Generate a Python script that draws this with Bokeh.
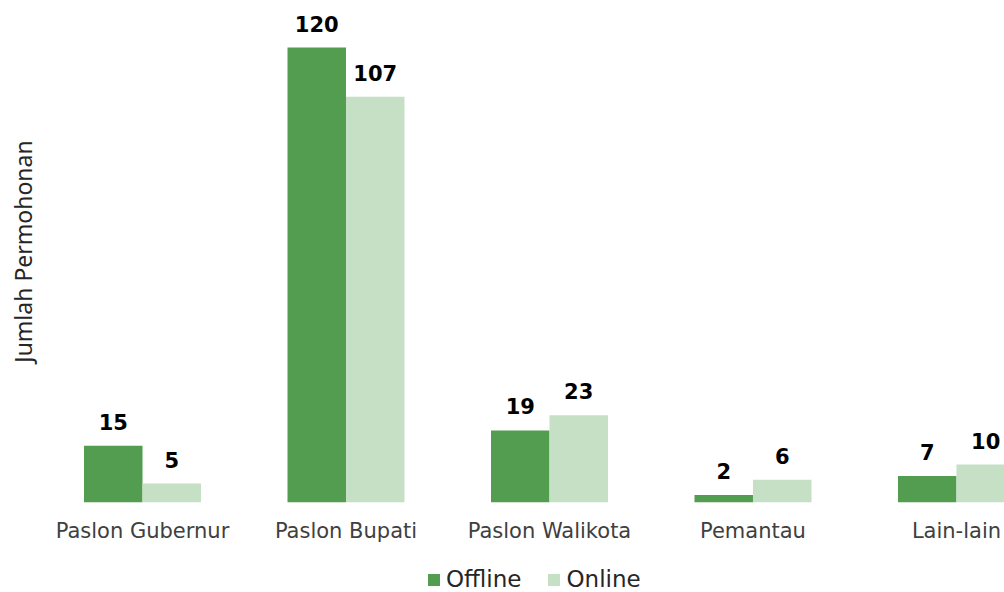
from bokeh.plotting import figure
from bokeh.layouts import column
from bokeh.models import (ColumnDataSource, LabelSet, Legend, LegendItem,
                          FixedTicker, Range1d)
from bokeh.core.properties import value
from bokeh.embed import file_html
from bokeh.resources import INLINE

categories = ["Paslon Gubernur", "Paslon Bupati", "Paslon Walikota", "Pemantau", "Lain-lain"]
offline = [15, 120, 19, 2, 7]
online = [5, 107, 23, 6, 10]
series_names = ["Offline", "Online"]
colors = ["#529d50", "#c6e0c5"]

idx = list(range(len(categories)))
half = 0.1437
bw = 0.2875

src_off = ColumnDataSource(dict(x=[i - half for i in idx], top=offline,
                                lbl=[str(v) for v in offline]))
src_on = ColumnDataSource(dict(x=[i + half for i in idx], top=online,
                               lbl=[str(v) for v in online]))

p = figure(width=1004, height=560, output_backend="svg", toolbar_location=None,
           x_range=Range1d(-0.4521, 4.236), y_range=Range1d(0, 132.4),
           min_border_left=50, min_border_right=0, min_border_top=0,
           min_border_bottom=58)
p.outline_line_color = None
p.xgrid.grid_line_color = None
p.ygrid.grid_line_color = None

r_off = p.vbar(x="x", top="top", width=bw, bottom=0, source=src_off,
               fill_color=colors[0], line_color=None)
r_on = p.vbar(x="x", top="top", width=bw, bottom=0, source=src_on,
              fill_color=colors[1], line_color=None)

for src in (src_off, src_on):
    p.add_layout(LabelSet(x="x", y="top", text="lbl", source=src,
                          text_align="center", text_baseline="alphabetic",
                          y_offset=16, text_font=value("DejaVu Sans"),
                          text_font_style="bold", text_font_size="21px",
                          text_color="#000000"))

# x axis
p.xaxis.ticker = FixedTicker(ticks=idx)
p.xaxis.major_label_overrides = {i: c for i, c in zip(idx, categories)}
p.xaxis.axis_line_color = None
p.xaxis.major_tick_line_color = None
p.xaxis.minor_tick_line_color = None
p.xaxis.major_label_standoff = 10
p.xaxis.major_label_text_font = "DejaVu Sans"
p.xaxis.major_label_text_font_size = "21px"
p.xaxis.major_label_text_color = "#404040"

# y axis
p.yaxis.ticker = FixedTicker(ticks=[])
p.yaxis.axis_line_color = None
p.yaxis.major_tick_line_color = None
p.yaxis.minor_tick_line_color = None
p.yaxis.axis_label = "Jumlah Permohonan"
p.yaxis.axis_label_text_font = "Noto Sans"
p.yaxis.axis_label_text_font_style = "normal"
p.yaxis.axis_label_text_font_size = "23px"
p.yaxis.axis_label_text_color = "#262626"
p.yaxis.axis_label_standoff = 12

# legend row
lg = figure(width=1004, height=32, output_backend="svg", toolbar_location=None,
            x_range=Range1d(0, 1), y_range=Range1d(0, 1),
            min_border=0, x_axis_location=None, y_axis_location=None)
lg.outline_line_color = None
lg.xgrid.grid_line_color = None
lg.ygrid.grid_line_color = None
k_off = lg.vbar(x=[5], top=[1], width=0.1, fill_color=colors[0], line_color=None)
k_on = lg.vbar(x=[5], top=[1], width=0.1, fill_color=colors[1], line_color=None)
legend = Legend(items=[LegendItem(label=series_names[0], renderers=[k_off]),
                       LegendItem(label=series_names[1], renderers=[k_on])],
                orientation="horizontal", location=(376, 0),
                glyph_width=15, glyph_height=15, label_standoff=5, spacing=25,
                label_text_font="DejaVu Sans", label_text_font_size="23px",
                label_text_color="#262626", border_line_color=None,
                background_fill_alpha=0, margin=0, padding=0)
lg.add_layout(legend)

open("out.html", "w").write(file_html(column(p, lg, spacing=0), INLINE))
